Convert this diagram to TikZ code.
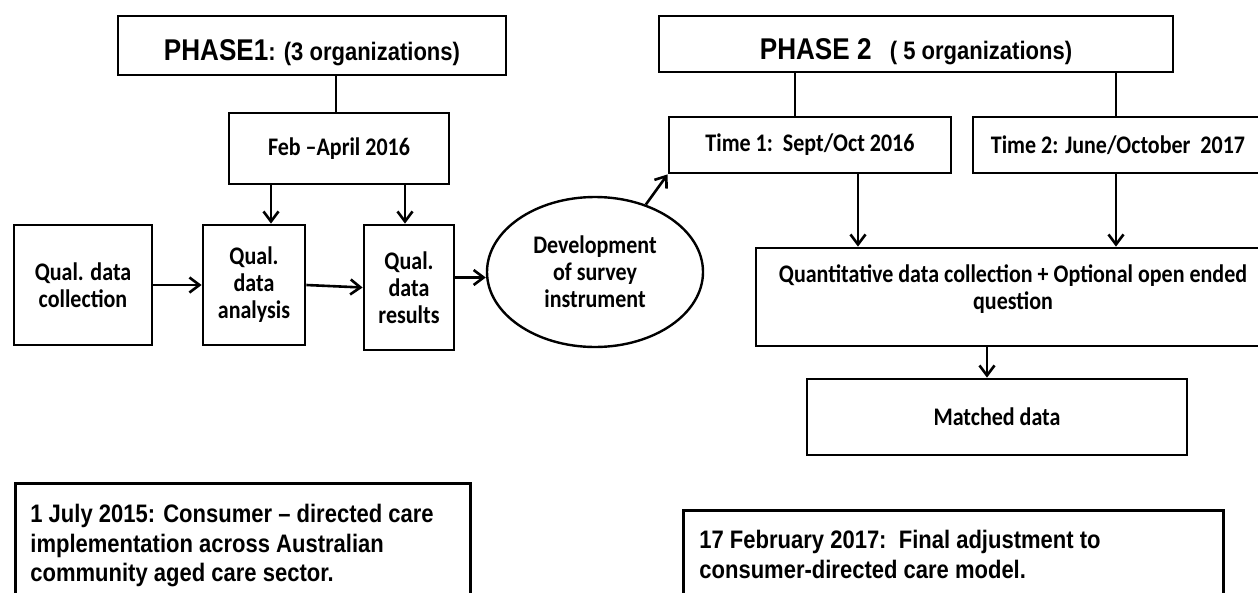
\documentclass[tikz,border=0pt]{standalone}
\usepackage{fontspec}
\setmainfont{Liberation Sans}[FakeStretch=0.87]
\newfontfamily\calib{Carlito}[FakeStretch=0.87]
\usetikzlibrary{arrows.meta,shapes.geometric}

\tikzset{
  box/.style={draw, line width=2.8pt, rectangle, inner sep=0pt, align=center,
    font=\calib\bfseries\fontsize{25.3}{27}\selectfont},
  headbox/.style={box, text depth=0pt, font=\bfseries\fontsize{25.3}{27}\selectfont},
  txt/.style={inner sep=0pt, align=center, font=\calib\bfseries\fontsize{25.3}{27}\selectfont},
  notebox/.style={draw, line width=2.8pt, anchor=north west, inner xsep=15pt,
    font=\bfseries\fontsize{25.3}{29.5}\selectfont},
  link/.style={line width=2.6pt},
  arr/.style={link, -{Straight Barb[length=10pt,width=15pt]}},
}

\begin{document}
\begin{tikzpicture}[x=1pt, y=-1pt]
\useasboundingbox (0,0) rectangle (1258,592);
\clip (0,0) rectangle (1258,592);

% Phase 1
\node[headbox, text height=29pt, minimum width=388, minimum height=59] (phase1) at (312,45.5)
  {{\fontsize{30}{32}\selectfont PHASE1}: (3 organizations)};
\node[box, minimum width=220, minimum height=71] (feb) at (339,148.5) {Feb –April 2016};
\node[box, minimum width=138, minimum height=120] (coll) at (83,285) {Qual. data\\collection};
\node[box, minimum width=102, minimum height=120] (anal) at (254,285) {Qual.\\data\\analysis};
\node[box, minimum width=90, minimum height=125] (res) at (409,287.5) {Qual.\\data\\results};
\node[box, ellipse, line width=2.4pt, minimum width=216, minimum height=150] (ell) at (595,272)
  {Development\\of survey\\instrument};

% Phase 2
\node[headbox, text height=31pt, minimum width=514, minimum height=56] (phase2) at (916,44)
  {{\fontsize{30}{32}\selectfont PHASE 2}\ \ \ ( 5 organizations)};
\node[box, minimum width=282, minimum height=56] (time1) at (810,145) {Time 1:\ \ Sept/Oct 2016};
\node[box, minimum width=295, minimum height=56] (time2) at (1120.5,145) {};
\node[txt] (time2text) at (1118,145) {Time 2: June/October\ \ 2017};
\node[box, minimum width=514, minimum height=98] (quant) at (1013,297) {};
\node[txt] (quanttext) at (1013,289) {Quantitative data collection + Optional open ended\\question};
\node[box, minimum width=380, minimum height=76] (matched) at (997,417) {Matched data};

% Policy milestones
\node[notebox, inner ysep=21pt] (note1) at (14,482)
  {\parbox[t][140pt][t]{425pt}{1 July 2015: Consumer – directed care\\
   implementation across Australian\\community aged care sector.}};
\node[notebox, inner ysep=20pt, inner xsep=16pt] (note2) at (682,509)
  {\parbox[t][120pt][t]{508pt}{17 February 2017:\ \ Final adjustment to\\
   consumer-directed care model.}};

% Connectors, phase 1
\draw[link] ([xshift=-3]feb.north) -- ([xshift=-3]feb.north |- phase1.south);
\draw[arr] ([xshift=17]anal.north |- feb.south) -- ([xshift=17]anal.north);
\draw[arr] ([xshift=-4]res.north |- feb.south) -- ([xshift=-4]res.north);
\draw[arr] (coll.east) -- (anal.west);
\draw[arr] (anal.east) -- (res.west);
\draw[arr] ([yshift=10]res.east) -- ([yshift=10]res.east -| ell.west);
\draw[arr] (ell.53) -- (time1.south west);

% Connectors, phase 2
\draw[link] ([xshift=-15]time1.north) -- ([xshift=-15]time1.north |- phase2.south);
\draw[link] ([xshift=-4.5]time2.north) -- ([xshift=-4.5]time2.north |- phase2.south);
\draw[arr] ([xshift=48]time1.south) -- ([xshift=48]time1.south |- quant.north);
\draw[arr] ([xshift=-4.5]time2.south) -- ([xshift=-4.5]time2.south |- quant.north);
\draw[arr] ([xshift=-10]matched.north |- quant.south) -- ([xshift=-10]matched.north);
\end{tikzpicture}
\end{document}
